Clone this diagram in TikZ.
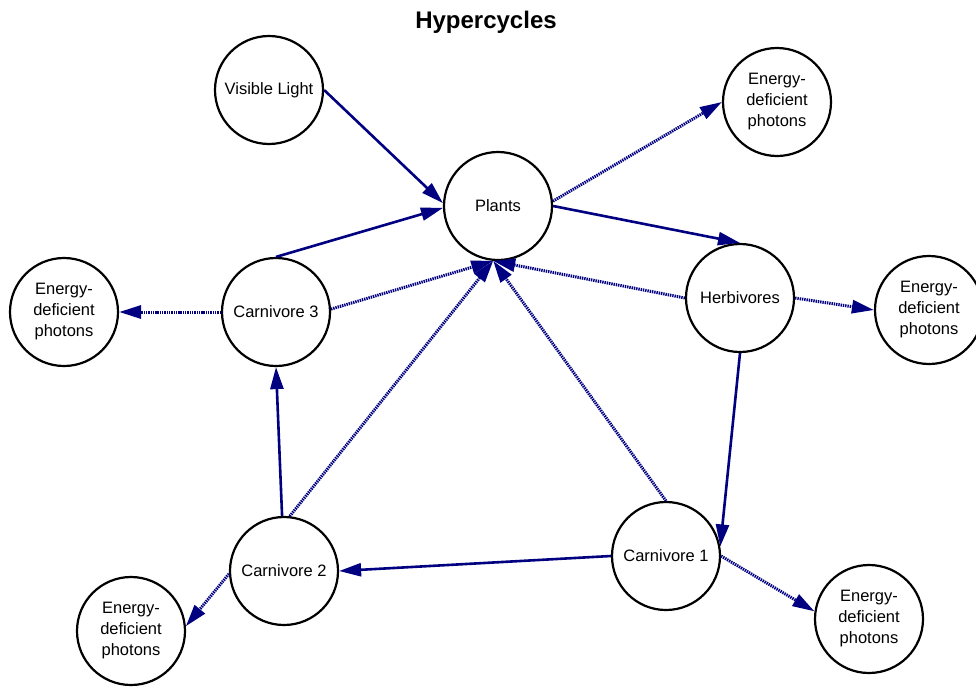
\documentclass[tikz,border=0pt]{standalone}
\usepackage{fontspec}
\setmainfont{Liberation Sans}
\usepackage{xcolor}
\usepackage{tikz}
\usetikzlibrary{arrows.meta}
\definecolor{navy}{HTML}{000080}
\tikzset{
  cell/.style={circle, draw=black, line width=2.2pt, fill=white, minimum size=108pt, inner sep=0pt, align=center, font=\fontsize{16.5}{21}\selectfont},
  flow/.style={draw=navy, line width=2.6pt, -{Triangle[length=22pt,width=13pt]}},
  leak/.style={flow, line width=3pt, dash pattern=on 1.4pt off 0.9pt},
  ttl/.style={font=\bfseries\fontsize{24}{28}\selectfont},
}
\begin{document}
\begin{tikzpicture}[x=1pt,y=-1pt]
  \useasboundingbox (0,0) rectangle (976,688);
  \node[ttl] (T) at (486,22) {Hypercycles};

  \node[cell] (vl) at (269,90) {Visible Light};
  \node[cell] (plants) at (498,206) {Plants};
  \node[cell] (etr) at (777,102) {Energy-\\deficient\\photons};
  \node[cell] (herb) at (740,298) {Herbivores};
  \node[cell] (er) at (929,310) {Energy-\\deficient\\photons};
  \node[cell] (c3) at (276,312) {Carnivore 3};
  \node[cell] (el) at (64,312) {Energy-\\deficient\\photons};
  \node[cell] (c2) at (284,571) {Carnivore 2};
  \node[cell] (ebl) at (131,631) {Energy-\\deficient\\photons};
  \node[cell] (c1) at (666,556) {Carnivore 1};
  \node[cell] (ebr) at (869,619) {Energy-\\deficient\\photons};

  % energy flow
  \draw[flow] (vl.east) -- (plants.177);
  \draw[flow] (c3.north) -- (plants.182);
  \draw[flow] (plants.east) -- (herb.north);
  \draw[flow] (herb.south) -- (c1.10);
  \draw[flow] (c1.west) -- (c2.east);
  \draw[flow] (c2.92) -- (c3.south);

  % losses and returns
  \draw[leak] (plants.5) -- (etr.west);
  \draw[leak] (c3.west) -- (el.east);
  \draw[leak] (c3.3) -- (plants.265);
  \draw[leak] (c2.84) -- (plants.265);
  \draw[leak] (c1.north) -- (plants.265);
  \draw[leak] (herb.west) -- (plants.265);
  \draw[leak] (herb.east) -- (er.west);
  \draw[leak] (c2.183) -- (ebl.5);
  \draw[leak] (c1.east) -- (ebr.172);
\end{tikzpicture}
\end{document}
